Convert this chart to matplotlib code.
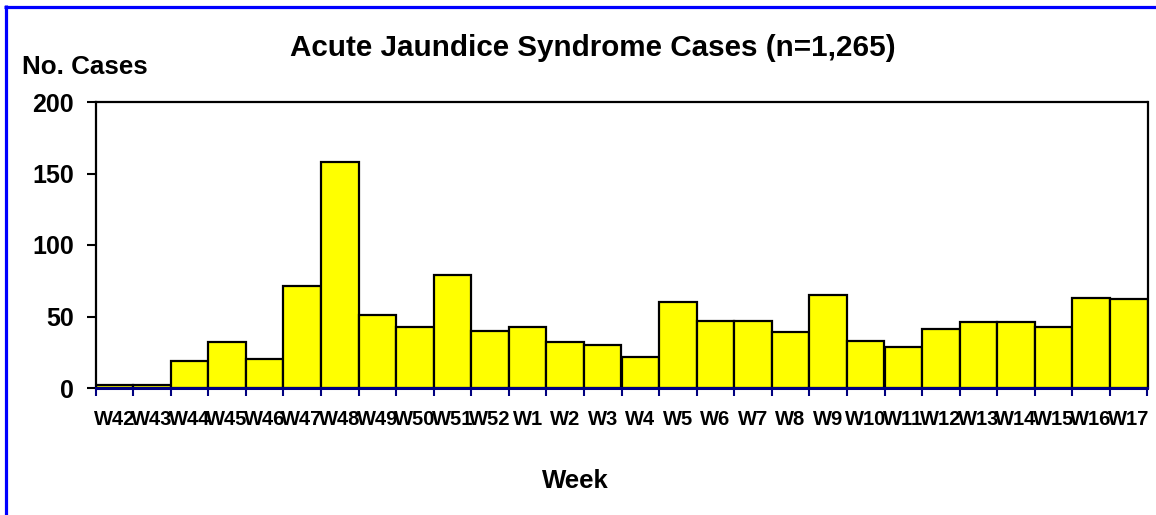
import matplotlib
matplotlib.use("Agg")
import matplotlib.pyplot as plt
from matplotlib.lines import Line2D
from matplotlib import font_manager

weeks = ["W42", "W43", "W44", "W45", "W46", "W47", "W48", "W49", "W50", "W51",
         "W52", "W1", "W2", "W3", "W4", "W5", "W6", "W7", "W8", "W9", "W10",
         "W11", "W12", "W13", "W14", "W15", "W16", "W17"]
cases = [2, 2, 19, 32, 20, 71, 158, 51, 43, 79, 40, 43, 32, 30, 22, 60, 47, 47,
         39, 65, 33, 29, 41, 46, 46, 43, 63, 62]
yticks = [0, 50, 100, 150, 200]

W, H = 1156, 515
fig = plt.figure(figsize=(W / 100, H / 100), dpi=100)
fig.patch.set_facecolor("white")

names = {f.name for f in font_manager.fontManager.ttflist}
narrow = "Liberation Sans Narrow" if "Liberation Sans Narrow" in names else "Liberation Sans"
base = "Liberation Sans"

left, right, top, bottom = 95.5, 1147.5, 102, 388
ax = fig.add_axes([left / W, 1 - bottom / H, (right - left) / W, (bottom - top) / H])

x = list(range(len(weeks)))
ax.bar(x, cases, width=1.0, color="#FFFF00", edgecolor="black", linewidth=1.6, zorder=2)
ax.set_xlim(-0.5, len(weeks) - 0.5)
ax.set_ylim(0, 200)

ax.set_yticks(yticks)
ax.set_yticklabels([str(v) for v in yticks], fontsize=18, fontweight="bold", family=base)
ax.tick_params(axis="y", direction="out", length=6.5, width=1.5, color="black", pad=9)

# boundaries as major ticks, labels on minor ticks at bar centres
ax.set_xticks([i - 0.5 for i in range(len(weeks) + 1)])
ax.set_xticklabels([])
ax.set_xticks(x, minor=True)
ax.set_xticklabels(weeks, minor=True, fontsize=14.5, fontweight="bold", family=narrow)
ax.tick_params(axis="x", which="major", direction="out", length=5.5, width=1.5, color="#000080")
ax.tick_params(axis="x", which="minor", length=0, pad=16)

for s in ["left", "top", "right"]:
    ax.spines[s].set_color("black")
    ax.spines[s].set_linewidth(1.6)
ax.spines["bottom"].set_color("#000080")
ax.spines["bottom"].set_linewidth(2.2)
ax.spines["bottom"].set_zorder(3)

fig.text(593 / W, 1 - 48 / H, "Acute Jaundice Syndrome Cases (n=1,265)", ha="center", va="center",
         fontsize=21.3, fontweight="bold", family=base)
fig.text(22 / W, 1 - 67 / H, "No. Cases", ha="left", va="center",
         fontsize=18.7, fontweight="bold", family=base)
fig.text(575 / W, 1 - 481 / H, "Week", ha="center", va="center",
         fontsize=18.5, fontweight="bold", family=base)

# blue frame (left and top)
fig.add_artist(Line2D([5.5 / W, 5.5 / W], [1 - 5 / H, 0], transform=fig.transFigure,
                      color="#0000FF", linewidth=2.3, solid_capstyle="butt"))
fig.add_artist(Line2D([4 / W, 1], [1 - 6.5 / H, 1 - 6.5 / H], transform=fig.transFigure,
                      color="#0000FF", linewidth=2.3, solid_capstyle="butt"))

fig.savefig("out.png", dpi=100, facecolor="white")
